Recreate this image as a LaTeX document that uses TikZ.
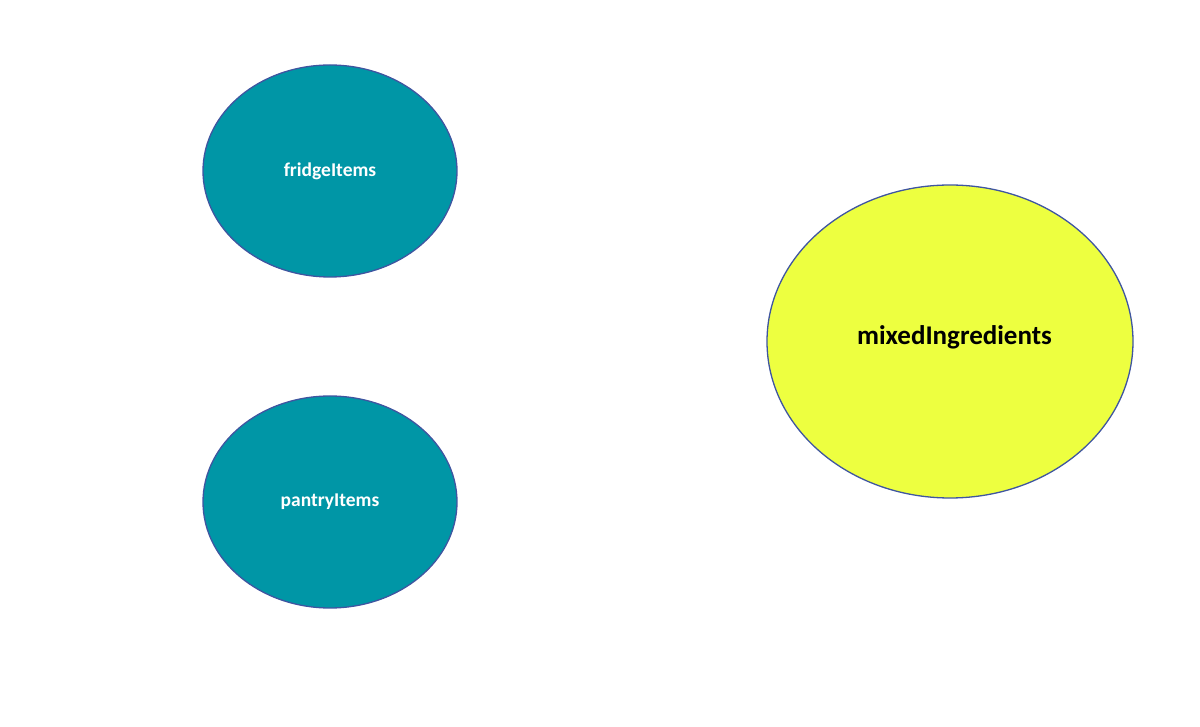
\documentclass[tikz,border=0pt]{standalone}
\usepackage{fontspec}
\setmainfont{Carlito}
\usetikzlibrary{shapes.geometric}
\definecolor{tealfill}{HTML}{0096A6}
\definecolor{limefill}{HTML}{EDFF40}
\definecolor{rimblue}{HTML}{3F55A0}
\tikzset{
  blob/.style={ellipse, draw=rimblue, line width=1.3pt, inner sep=0pt},
  itembox/.style={blob, fill=tealfill, minimum width=254pt, minimum height=212pt},
  mixbox/.style={blob, fill=limefill, minimum width=366pt, minimum height=313pt},
  itemtext/.style={font=\bfseries\fontsize{19.5}{23}\selectfont, text=white},
  mixtext/.style={font=\bfseries\fontsize{27}{32}\selectfont, text=black},
}
\begin{document}
\begin{tikzpicture}[x=1pt,y=1pt]
  \useasboundingbox (0,0) rectangle (1200,726);
  \node[itembox] (fridge) at (330,555) {};
  \node[itemtext] (fridgelabel) at (330,555) {fridgeItems};
  \node[itembox] (pantry) at (330,224) {};
  \node[itemtext] (pantrylabel) at (330,224) {pantryItems};
  \node[mixbox] (mixed) at (950,384.5) {};
  \node[mixtext] (mixedlabel) at (954.5,389) {mixedIngredients};
\end{tikzpicture}
\end{document}
